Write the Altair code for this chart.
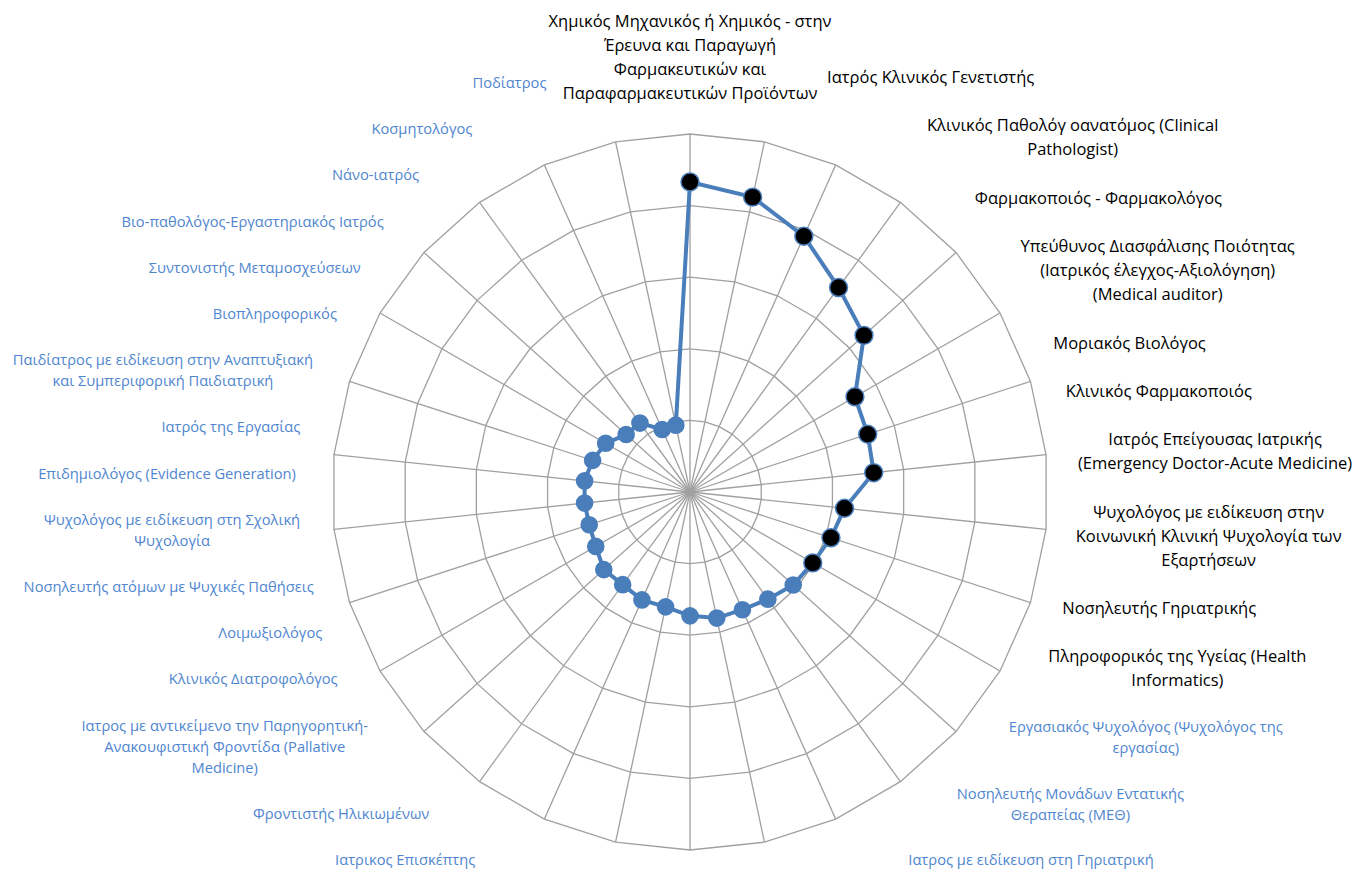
import math
import altair as alt
import pandas as pd

# ---------------- data ----------------
categories = [
    "Χημικός Μηχανικός ή Χημικός  - στην\nΈρευνα και Παραγωγή\nΦαρμακευτικών και\nΠαραφαρμακευτικών Προϊόντων",
    "Ιατρός Κλινικός Γενετιστής",
    "Κλινικός Παθολόγ οανατόμος (Clinical\nPathologist)",
    "Φαρμακοποιός  - Φαρμακολόγος",
    "Υπεύθυνος Διασφάλισης Ποιότητας\n(Ιατρικός έλεγχος-Αξιολόγηση)\n(Medical auditor)",
    "Μοριακός Βιολόγος",
    "Κλινικός Φαρμακοποιός",
    "Ιατρός Επείγουσας Ιατρικής\n(Emergency Doctor-Acute Medicine)",
    "Ψυχολόγος με ειδίκευση στην\nΚοινωνική Κλινική Ψυχολογία των\nΕξαρτήσεων",
    "Νοσηλευτής Γηριατρικής",
    "Πληροφορικός της Υγείας (Health\nInformatics)",
    "Εργασιακός Ψυχολόγος (Ψυχολόγος της\nεργασίας)",
    "Νοσηλευτής Μονάδων Εντατικής\nΘεραπείας (ΜΕΘ)",
    "Ιατρος με ειδίκευση στη Γηριατρική",
    "Ιατρικος Επισκέπτης",
    "Φροντιστής Ηλικιωμένων",
    "Ιατρος με αντικείμενο την Παρηγορητική-\nΑνακουφιστική Φροντίδα (Pallative\nMedicine)",
    "Κλινικός Διατροφολόγος",
    "Λοιμωξιολόγος",
    "Νοσηλευτής ατόμων με Ψυχικές Παθήσεις",
    "Ψυχολόγος με ειδίκευση στη Σχολική\nΨυχολογία",
    "Επιδημιολόγος (Evidence Generation)",
    "Ιατρός της Εργασίας",
    "Παιδίατρος με ειδίκευση στην Αναπτυξιακή\nκαι Συμπεριφορική Παιδιατρική",
    "Βιοπληροφορικός",
    "Συντονιστής Μεταμοσχεύσεων",
    "Βιο-παθολόγος-Εργαστηριακός Ιατρός",
    "Νάνο-ιατρός",
    "Κοσμητολόγος",
    "Ποδίατρος",
]

values = [4.33, 4.21, 3.91, 3.53, 3.27, 2.66, 2.61, 2.58, 2.17, 2.07,
          1.98, 1.94, 1.85, 1.80, 1.80, 1.73, 1.64, 1.65, 1.60, 1.62,
          1.52, 1.48, 1.48, 1.48, 1.43, 1.36, 1.20, 1.19, 0.955, 0.954]

groups = ["top"] * 11 + ["rest"] * 19

ring_levels = [1, 2, 3, 4, 5]

# ---------------- layout ----------------
PX = 71.6            # pixels per unit
W, H = 1348, 865
CX, CY = 682, 484    # centre of the radar in plot pixels
XDOM = [-CX / PX, (W - CX) / PX]
YDOM = [-(H - CY) / PX, CY / PX]
N = len(categories)
RMAX = max(ring_levels)

BLUE_LINE = "#4a7ebb"
BLUE_TEXT = "#4f86cf"
GRID = "#a0a0a0"
FONT = "Open Sans"
FS_BLACK, FS_BLUE = 16.5, 14.7
LH_BLACK, LH_BLUE = 24, 21
PPC_BLACK, PPC_BLUE = 8.3, 7.5   # approx px per character
EDGE = 4                          # keep labels this far inside the canvas (px)


def ang(i):
    return math.radians(360.0 * i / N)


# rings
ring_rows = []
for k in ring_levels:
    for j in range(N + 1):
        a = ang(j)
        ring_rows.append({"ring": k, "ord": j, "x": k * math.sin(a), "y": k * math.cos(a)})
rings = pd.DataFrame(ring_rows)

# spokes
spokes = pd.DataFrame([
    {"x": 0.0, "y": 0.0, "x2": RMAX * math.sin(ang(i)), "y2": RMAX * math.cos(ang(i))}
    for i in range(N)
])

# series
pts = pd.DataFrame({"cat": list(range(N)), "value": values, "group": groups})
pts["x"] = [v * math.sin(ang(i)) for i, v in enumerate(values)]
pts["y"] = [v * math.cos(ang(i)) for i, v in enumerate(values)]
line_df = pd.concat([pts, pts.iloc[[0]].assign(cat=N)], ignore_index=True)

# labels: stacked with equal gaps on each side, pushed outside an ellipse
A, B = 392 / PX, 440 / PX
right_idx = list(range(1, 14))
left_idx = list(range(14, N))


def info(i):
    lines = categories[i].split("\n")
    top = groups[i] == "top"
    lh = LH_BLACK if top else LH_BLUE
    ppc = PPC_BLACK if top else PPC_BLUE
    return lines, lh, len(lines) * lh, max(len(s) for s in lines) * ppc / 2


def spread(idx, y0, y1):
    hs = [info(i)[2] for i in idx]
    half = sum((hs[k] + hs[k + 1]) / 2 for k in range(len(hs) - 1))
    g = (abs(y1 - y0) - half) / (len(hs) - 1)
    sgn = 1 if y1 > y0 else -1
    ys_ = [y0]
    for k in range(len(hs) - 1):
        ys_.append(ys_[-1] + sgn * (g + (hs[k] + hs[k + 1]) / 2))
    return dict(zip(idx, ys_))


ypos = {0: 50}
ypos.update(spread(right_idx, 70, 853))
ypos.update(spread(left_idx, 853, 76))

lab_rows = []
for i, text in enumerate(categories):
    lines, lh, hgt, hw = info(i)
    yc = (CY - ypos[i]) / PX                     # block centre (units)
    if i == 0:
        lx = 0.0
    else:
        d = 1 if i in right_idx else -1
        e = A * math.sqrt(max(0.0, 1 - (yc / B) ** 2))
        lx = d * (e + hw / PX)
    lo = XDOM[0] + (hw + EDGE) / PX
    hi = XDOM[1] - (hw + EDGE) / PX
    lx = min(max(lx, lo), hi)
    y_first = yc + (len(lines) - 1) * lh / 2 / PX  # first line baseline-middle
    lab_rows.append({"label": text, "x": lx, "y": y_first, "group": groups[i]})
labels = pd.DataFrame(lab_rows)

# ---------------- chart ----------------
xs = alt.Scale(domain=XDOM, nice=False, zero=False)
ys = alt.Scale(domain=YDOM, nice=False, zero=False)
X = lambda f="x": alt.X(f"{f}:Q", scale=xs, axis=None)
Y = lambda f="y": alt.Y(f"{f}:Q", scale=ys, axis=None)

ring_layer = alt.Chart(rings).mark_line(color=GRID, strokeWidth=1.3).encode(
    x=X(), y=Y(), detail="ring:N", order="ord:Q")

spoke_layer = alt.Chart(spokes).mark_rule(color=GRID, strokeWidth=1.3).encode(
    x=X(), y=Y(), x2="x2:Q", y2="y2:Q")

series_line = alt.Chart(line_df).mark_line(color=BLUE_LINE, strokeWidth=4).encode(
    x=X(), y=Y(), order="cat:Q")

point_layer = alt.Chart(pts).mark_point(filled=True, opacity=1, strokeWidth=1.5, stroke=BLUE_LINE).encode(
    x=X(), y=Y(),
    color=alt.Color("group:N", scale=alt.Scale(domain=["top", "rest"], range=["#000000", BLUE_LINE]), legend=None),
    size=alt.Size("group:N", scale=alt.Scale(domain=["top", "rest"], range=[320, 260]), legend=None),
    shape=alt.value("circle"),
)

black_labels = alt.Chart(labels).transform_filter(alt.datum.group == "top").mark_text(
    font=FONT, fontSize=FS_BLACK, color="#000000", lineBreak="\n", lineHeight=LH_BLACK,
    align="center", baseline="middle").encode(x=X(), y=Y(), text="label:N")

blue_labels = alt.Chart(labels).transform_filter(alt.datum.group == "rest").mark_text(
    font=FONT, fontSize=FS_BLUE, color=BLUE_TEXT, lineBreak="\n", lineHeight=LH_BLUE,
    align="center", baseline="middle").encode(x=X(), y=Y(), text="label:N")

chart = alt.layer(ring_layer, spoke_layer, series_line, point_layer, black_labels, blue_labels).properties(
    width=W, height=H, padding=0, autosize=alt.AutoSizeParams(type="none")
).configure_view(stroke=None)

chart.save("out.html", embed_options={"renderer": "svg", "actions": False})
